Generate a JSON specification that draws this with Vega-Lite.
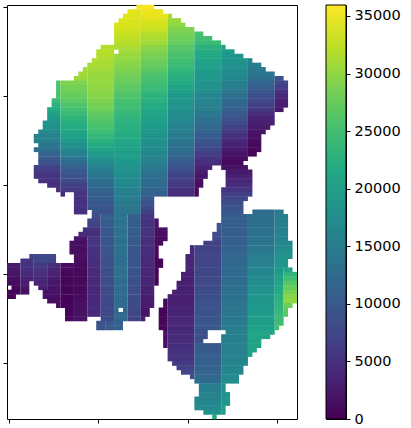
{"$schema":"https://vega.github.io/schema/vega-lite/v6.json","padding":{"left":2,"top":4,"right":0,"bottom":0},"background":"white","spacing":27,"config":{"view":{"stroke":"black","strokeWidth":1},"axis":{"grid":false,"domain":false,"tickColor":"black","tickSize":4,"title":null}},"hconcat":[{"width":290,"height":414,"data":{"values":[
{"a":29,"b":30,"r":0,"v":35500},{"a":30,"b":33,"r":0,"v":35500},
{"a":27,"b":30,"r":1,"v":34500},{"a":30,"b":35,"r":1,"v":35000},
{"a":26,"b":30,"r":2,"v":34300},{"a":30,"b":36,"r":2,"v":34800},{"a":36,"b":37,"r":2,"v":31500},
{"a":25,"b":30,"r":3,"v":34000},{"a":30,"b":36,"r":3,"v":34000},{"a":36,"b":39,"r":3,"v":30500},
{"a":24,"b":30,"r":4,"v":33800},{"a":30,"b":36,"r":4,"v":33500},{"a":36,"b":40,"r":4,"v":30000},
{"a":24,"b":30,"r":5,"v":33500},{"a":30,"b":36,"r":5,"v":33000},{"a":36,"b":42,"r":5,"v":29000},
{"a":24,"b":30,"r":6,"v":33000},{"a":30,"b":36,"r":6,"v":32000},{"a":36,"b":42,"r":6,"v":28500},{"a":42,"b":44,"r":6,"v":25500},
{"a":24,"b":30,"r":7,"v":32500},{"a":30,"b":36,"r":7,"v":31500},{"a":36,"b":42,"r":7,"v":28000},{"a":42,"b":46,"r":7,"v":25000},
{"a":24,"b":30,"r":8,"v":32000},{"a":30,"b":36,"r":8,"v":31000},{"a":36,"b":42,"r":8,"v":27500},{"a":42,"b":48,"r":8,"v":24500},
{"a":21,"b":24,"r":9,"v":32000},{"a":24,"b":30,"r":9,"v":31500},{"a":30,"b":36,"r":9,"v":29800},{"a":36,"b":42,"r":9,"v":26600},{"a":42,"b":48,"r":9,"v":23000},{"a":48,"b":49,"r":9,"v":20000},
{"a":20,"b":24,"r":10,"v":32000},{"a":25,"b":30,"r":10,"v":31000},{"a":30,"b":36,"r":10,"v":29000},{"a":36,"b":42,"r":10,"v":26000},{"a":42,"b":48,"r":10,"v":22000},{"a":48,"b":51,"r":10,"v":19500},
{"a":20,"b":24,"r":11,"v":31800},{"a":24,"b":30,"r":11,"v":30500},{"a":30,"b":36,"r":11,"v":28500},{"a":36,"b":42,"r":11,"v":25500},{"a":42,"b":48,"r":11,"v":21500},{"a":48,"b":53,"r":11,"v":19000},
{"a":19,"b":24,"r":12,"v":31500},{"a":24,"b":30,"r":12,"v":30000},{"a":30,"b":36,"r":12,"v":28000},{"a":36,"b":42,"r":12,"v":25000},{"a":42,"b":48,"r":12,"v":21000},{"a":48,"b":54,"r":12,"v":18500},{"a":54,"b":55,"r":12,"v":15500},
{"a":18,"b":24,"r":13,"v":31200},{"a":24,"b":30,"r":13,"v":29500},{"a":30,"b":36,"r":13,"v":27500},{"a":36,"b":42,"r":13,"v":24500},{"a":42,"b":48,"r":13,"v":20500},{"a":48,"b":54,"r":13,"v":18000},{"a":54,"b":57,"r":13,"v":15000},
{"a":17,"b":18,"r":14,"v":31000},{"a":18,"b":24,"r":14,"v":31000},{"a":24,"b":30,"r":14,"v":29000},{"a":30,"b":36,"r":14,"v":27000},{"a":36,"b":42,"r":14,"v":24000},{"a":42,"b":48,"r":14,"v":20000},{"a":48,"b":54,"r":14,"v":17500},{"a":54,"b":58,"r":14,"v":14500},
{"a":16,"b":18,"r":15,"v":31000},{"a":18,"b":24,"r":15,"v":30500},{"a":24,"b":30,"r":15,"v":28500},{"a":30,"b":36,"r":15,"v":26000},{"a":36,"b":42,"r":15,"v":23000},{"a":42,"b":48,"r":15,"v":19500},{"a":48,"b":54,"r":15,"v":17000},{"a":54,"b":60,"r":15,"v":14000},
{"a":15,"b":18,"r":16,"v":30500},{"a":18,"b":24,"r":16,"v":30300},{"a":24,"b":30,"r":16,"v":28000},{"a":30,"b":36,"r":16,"v":25500},{"a":36,"b":42,"r":16,"v":22500},{"a":42,"b":48,"r":16,"v":19000},{"a":48,"b":54,"r":16,"v":16500},{"a":54,"b":60,"r":16,"v":13000},{"a":60,"b":62,"r":16,"v":9000},
{"a":11,"b":12,"r":17,"v":26000},{"a":12,"b":18,"r":17,"v":29000},{"a":18,"b":24,"r":17,"v":30200},{"a":24,"b":30,"r":17,"v":27500},{"a":30,"b":36,"r":17,"v":25000},{"a":36,"b":42,"r":17,"v":22000},{"a":42,"b":48,"r":17,"v":18500},{"a":48,"b":54,"r":17,"v":15500},{"a":54,"b":60,"r":17,"v":11500},{"a":60,"b":63,"r":17,"v":7500},
{"a":11,"b":12,"r":18,"v":25800},{"a":12,"b":18,"r":18,"v":28500},{"a":18,"b":24,"r":18,"v":30000},{"a":24,"b":30,"r":18,"v":27000},{"a":30,"b":36,"r":18,"v":24500},{"a":36,"b":42,"r":18,"v":21000},{"a":42,"b":48,"r":18,"v":18200},{"a":48,"b":54,"r":18,"v":15000},{"a":54,"b":60,"r":18,"v":10500},{"a":60,"b":63,"r":18,"v":6500},
{"a":11,"b":12,"r":19,"v":25600},{"a":12,"b":18,"r":19,"v":28000},{"a":18,"b":24,"r":19,"v":29800},{"a":24,"b":30,"r":19,"v":26500},{"a":30,"b":36,"r":19,"v":24000},{"a":36,"b":42,"r":19,"v":20000},{"a":42,"b":48,"r":19,"v":17500},{"a":48,"b":54,"r":19,"v":14000},{"a":54,"b":60,"r":19,"v":9500},{"a":60,"b":63,"r":19,"v":5000},
{"a":11,"b":12,"r":20,"v":25500},{"a":12,"b":18,"r":20,"v":27500},{"a":18,"b":24,"r":20,"v":29500},{"a":24,"b":30,"r":20,"v":26000},{"a":30,"b":36,"r":20,"v":23000},{"a":36,"b":42,"r":20,"v":19500},{"a":42,"b":48,"r":20,"v":16500},{"a":48,"b":54,"r":20,"v":13000},{"a":54,"b":60,"r":20,"v":8500},{"a":60,"b":63,"r":20,"v":4000},
{"a":10,"b":12,"r":21,"v":24500},{"a":12,"b":18,"r":21,"v":27000},{"a":18,"b":24,"r":21,"v":29000},{"a":24,"b":30,"r":21,"v":25500},{"a":30,"b":36,"r":21,"v":22700},{"a":36,"b":42,"r":21,"v":19000},{"a":42,"b":48,"r":21,"v":16200},{"a":48,"b":54,"r":21,"v":12200},{"a":54,"b":60,"r":21,"v":7700},{"a":60,"b":63,"r":21,"v":3400},
{"a":10,"b":12,"r":22,"v":23000},{"a":12,"b":18,"r":22,"v":26000},{"a":18,"b":24,"r":22,"v":28500},{"a":24,"b":30,"r":22,"v":25000},{"a":30,"b":36,"r":22,"v":22000},{"a":36,"b":42,"r":22,"v":18500},{"a":42,"b":48,"r":22,"v":15700},{"a":48,"b":54,"r":22,"v":11500},{"a":54,"b":60,"r":22,"v":6800},{"a":60,"b":63,"r":22,"v":2800},
{"a":9,"b":12,"r":23,"v":22000},{"a":12,"b":18,"r":23,"v":25000},{"a":18,"b":24,"r":23,"v":28000},{"a":24,"b":30,"r":23,"v":24700},{"a":30,"b":36,"r":23,"v":21500},{"a":36,"b":42,"r":23,"v":18000},{"a":42,"b":48,"r":23,"v":15000},{"a":48,"b":54,"r":23,"v":11000},{"a":54,"b":60,"r":23,"v":5800},{"a":60,"b":62,"r":23,"v":2200},
{"a":9,"b":12,"r":24,"v":20500},{"a":12,"b":18,"r":24,"v":24500},{"a":18,"b":24,"r":24,"v":27200},{"a":24,"b":30,"r":24,"v":24000},{"a":30,"b":36,"r":24,"v":21000},{"a":36,"b":42,"r":24,"v":17500},{"a":42,"b":48,"r":24,"v":14200},{"a":48,"b":54,"r":24,"v":10000},{"a":54,"b":60,"r":24,"v":4500},
{"a":9,"b":12,"r":25,"v":19500},{"a":12,"b":18,"r":25,"v":23500},{"a":18,"b":24,"r":25,"v":26500},{"a":24,"b":30,"r":25,"v":23500},{"a":30,"b":36,"r":25,"v":20500},{"a":36,"b":42,"r":25,"v":17000},{"a":42,"b":48,"r":25,"v":13500},{"a":48,"b":54,"r":25,"v":9000},{"a":54,"b":60,"r":25,"v":3500},
{"a":8,"b":12,"r":26,"v":18500},{"a":12,"b":18,"r":26,"v":22700},{"a":18,"b":24,"r":26,"v":26000},{"a":24,"b":30,"r":26,"v":23000},{"a":30,"b":36,"r":26,"v":20000},{"a":36,"b":42,"r":26,"v":16400},{"a":42,"b":48,"r":26,"v":12700},{"a":48,"b":54,"r":26,"v":8000},{"a":54,"b":60,"r":26,"v":3000},
{"a":8,"b":12,"r":27,"v":18000},{"a":12,"b":18,"r":27,"v":22000},{"a":18,"b":24,"r":27,"v":25500},{"a":24,"b":30,"r":27,"v":22700},{"a":30,"b":36,"r":27,"v":19500},{"a":36,"b":42,"r":27,"v":15800},{"a":42,"b":48,"r":27,"v":12000},{"a":48,"b":54,"r":27,"v":7000},{"a":54,"b":59,"r":27,"v":2500},
{"a":7,"b":12,"r":28,"v":17000},{"a":12,"b":18,"r":28,"v":21200},{"a":18,"b":24,"r":28,"v":24700},{"a":24,"b":30,"r":28,"v":22300},{"a":30,"b":36,"r":28,"v":19000},{"a":36,"b":42,"r":28,"v":15300},{"a":42,"b":48,"r":28,"v":11200},{"a":48,"b":54,"r":28,"v":6000},{"a":54,"b":58,"r":28,"v":1800},
{"a":6,"b":12,"r":29,"v":16000},{"a":12,"b":18,"r":29,"v":20300},{"a":18,"b":24,"r":29,"v":24000},{"a":24,"b":30,"r":29,"v":22000},{"a":30,"b":36,"r":29,"v":18500},{"a":36,"b":42,"r":29,"v":14600},{"a":42,"b":48,"r":29,"v":10400},{"a":48,"b":54,"r":29,"v":5000},{"a":54,"b":57,"r":29,"v":1400},
{"a":6,"b":12,"r":30,"v":15500},{"a":12,"b":18,"r":30,"v":19500},{"a":18,"b":24,"r":30,"v":23000},{"a":24,"b":30,"r":30,"v":21500},{"a":30,"b":36,"r":30,"v":18000},{"a":36,"b":42,"r":30,"v":14000},{"a":42,"b":48,"r":30,"v":9500},{"a":48,"b":54,"r":30,"v":4000},{"a":54,"b":57,"r":30,"v":1000},
{"a":7,"b":12,"r":31,"v":14000},{"a":12,"b":18,"r":31,"v":18000},{"a":18,"b":24,"r":31,"v":22000},{"a":24,"b":30,"r":31,"v":21000},{"a":30,"b":36,"r":31,"v":17500},{"a":36,"b":42,"r":31,"v":13500},{"a":42,"b":48,"r":31,"v":8500},{"a":48,"b":54,"r":31,"v":3200},{"a":54,"b":57,"r":31,"v":800},
{"a":6,"b":12,"r":32,"v":13000},{"a":12,"b":18,"r":32,"v":16800},{"a":18,"b":24,"r":32,"v":20800},{"a":24,"b":30,"r":32,"v":20700},{"a":30,"b":36,"r":32,"v":17000},{"a":36,"b":42,"r":32,"v":13000},{"a":42,"b":48,"r":32,"v":7500},{"a":48,"b":54,"r":32,"v":2500},{"a":54,"b":57,"r":32,"v":600},
{"a":7,"b":12,"r":33,"v":11500},{"a":12,"b":18,"r":33,"v":15500},{"a":18,"b":24,"r":33,"v":19500},{"a":24,"b":30,"r":33,"v":20200},{"a":30,"b":36,"r":33,"v":16500},{"a":36,"b":42,"r":33,"v":12000},{"a":42,"b":48,"r":33,"v":6500},{"a":48,"b":54,"r":33,"v":1700},{"a":54,"b":56,"r":33,"v":500},
{"a":7,"b":12,"r":34,"v":10000},{"a":12,"b":18,"r":34,"v":14000},{"a":18,"b":24,"r":34,"v":18200},{"a":24,"b":30,"r":34,"v":19600},{"a":30,"b":36,"r":34,"v":16000},{"a":36,"b":42,"r":34,"v":11000},{"a":42,"b":48,"r":34,"v":5500},{"a":48,"b":54,"r":34,"v":1000},
{"a":7,"b":12,"r":35,"v":9000},{"a":12,"b":18,"r":35,"v":12500},{"a":18,"b":24,"r":35,"v":17000},{"a":24,"b":30,"r":35,"v":19000},{"a":30,"b":36,"r":35,"v":15500},{"a":36,"b":42,"r":35,"v":10000},{"a":42,"b":48,"r":35,"v":4500},{"a":48,"b":53,"r":35,"v":700},
{"a":6,"b":12,"r":36,"v":7000},{"a":12,"b":18,"r":36,"v":11000},{"a":18,"b":24,"r":36,"v":15500},{"a":24,"b":30,"r":36,"v":18500},{"a":30,"b":36,"r":36,"v":14500},{"a":36,"b":42,"r":36,"v":9000},{"a":42,"b":46,"r":36,"v":3500},{"a":48,"b":54,"r":36,"v":1500},
{"a":6,"b":12,"r":37,"v":6000},{"a":12,"b":18,"r":37,"v":10000},{"a":18,"b":24,"r":37,"v":14700},{"a":24,"b":30,"r":37,"v":18000},{"a":30,"b":36,"r":37,"v":13700},{"a":36,"b":42,"r":37,"v":8000},{"a":42,"b":45,"r":37,"v":2700},{"a":49,"b":55,"r":37,"v":2300},
{"a":6,"b":12,"r":38,"v":5500},{"a":12,"b":18,"r":38,"v":9000},{"a":18,"b":24,"r":38,"v":14000},{"a":24,"b":30,"r":38,"v":17500},{"a":30,"b":36,"r":38,"v":13000},{"a":36,"b":42,"r":38,"v":7000},{"a":42,"b":45,"r":38,"v":2000},{"a":49,"b":55,"r":38,"v":3000},
{"a":7,"b":12,"r":39,"v":5000},{"a":12,"b":18,"r":39,"v":8000},{"a":18,"b":24,"r":39,"v":13200},{"a":24,"b":30,"r":39,"v":17000},{"a":30,"b":36,"r":39,"v":12500},{"a":36,"b":42,"r":39,"v":6500},{"a":42,"b":44,"r":39,"v":1500},{"a":49,"b":55,"r":39,"v":3800},
{"a":9,"b":12,"r":40,"v":4700},{"a":12,"b":18,"r":40,"v":7000},{"a":18,"b":24,"r":40,"v":12500},{"a":24,"b":30,"r":40,"v":16500},{"a":30,"b":36,"r":40,"v":12000},{"a":36,"b":42,"r":40,"v":5700},{"a":42,"b":44,"r":40,"v":1200},{"a":49,"b":55,"r":40,"v":4500},
{"a":11,"b":12,"r":41,"v":4500},{"a":12,"b":18,"r":41,"v":6000},{"a":18,"b":24,"r":41,"v":11700},{"a":24,"b":30,"r":41,"v":16000},{"a":30,"b":36,"r":41,"v":11500},{"a":36,"b":42,"r":41,"v":5000},{"a":42,"b":43,"r":41,"v":1000},{"a":48,"b":55,"r":41,"v":5500},
{"a":12,"b":13,"r":42,"v":4300},{"a":15,"b":18,"r":42,"v":5200},{"a":18,"b":24,"r":42,"v":11000},{"a":24,"b":30,"r":42,"v":15500},{"a":30,"b":36,"r":42,"v":11000},{"a":36,"b":42,"r":42,"v":4500},{"a":42,"b":43,"r":42,"v":800},{"a":48,"b":55,"r":42,"v":6500},
{"a":15,"b":18,"r":43,"v":5000},{"a":18,"b":24,"r":43,"v":10500},{"a":24,"b":30,"r":43,"v":15000},{"a":30,"b":33,"r":43,"v":10000},{"a":48,"b":54,"r":43,"v":7500},
{"a":15,"b":18,"r":44,"v":5000},{"a":18,"b":24,"r":44,"v":10000},{"a":24,"b":30,"r":44,"v":14700},{"a":30,"b":33,"r":44,"v":9000},{"a":48,"b":53,"r":44,"v":8200},
{"a":15,"b":18,"r":45,"v":5000},{"a":18,"b":24,"r":45,"v":9500},{"a":24,"b":30,"r":45,"v":14300},{"a":30,"b":33,"r":45,"v":8000},{"a":48,"b":53,"r":45,"v":9000},
{"a":15,"b":18,"r":46,"v":5000},{"a":19,"b":24,"r":46,"v":9000},{"a":24,"b":30,"r":46,"v":14000},{"a":30,"b":33,"r":46,"v":7000},{"a":48,"b":53,"r":46,"v":9500},{"a":55,"b":60,"r":46,"v":12500},{"a":60,"b":62,"r":46,"v":14500},
{"a":19,"b":21,"r":47,"v":8500},{"a":21,"b":24,"r":47,"v":10500},{"a":24,"b":27,"r":47,"v":13800},{"a":27,"b":30,"r":47,"v":11000},{"a":30,"b":33,"r":47,"v":5500},{"a":48,"b":54,"r":47,"v":10500},{"a":54,"b":60,"r":47,"v":13000},{"a":60,"b":63,"r":47,"v":15000},
{"a":18,"b":21,"r":48,"v":7500},{"a":21,"b":24,"r":48,"v":10500},{"a":24,"b":27,"r":48,"v":13700},{"a":27,"b":30,"r":48,"v":10500},{"a":30,"b":33,"r":48,"v":5200},{"a":33,"b":34,"r":48,"v":1500},{"a":48,"b":54,"r":48,"v":10500},{"a":54,"b":60,"r":48,"v":13000},{"a":60,"b":63,"r":48,"v":15000},
{"a":18,"b":21,"r":49,"v":7000},{"a":21,"b":24,"r":49,"v":10300},{"a":24,"b":27,"r":49,"v":13600},{"a":27,"b":30,"r":49,"v":10500},{"a":30,"b":33,"r":49,"v":5000},{"a":33,"b":34,"r":49,"v":1500},{"a":47,"b":48,"r":49,"v":9500},{"a":48,"b":54,"r":49,"v":10500},{"a":54,"b":60,"r":49,"v":13200},{"a":60,"b":63,"r":49,"v":15200},
{"a":17,"b":21,"r":50,"v":5000},{"a":21,"b":24,"r":50,"v":10000},{"a":24,"b":27,"r":50,"v":13500},{"a":27,"b":30,"r":50,"v":10500},{"a":30,"b":33,"r":50,"v":5500},{"a":33,"b":36,"r":50,"v":1500},{"a":47,"b":48,"r":50,"v":9300},{"a":48,"b":54,"r":50,"v":10500},{"a":54,"b":60,"r":50,"v":13300},{"a":60,"b":63,"r":50,"v":15400},
{"a":16,"b":21,"r":51,"v":4500},{"a":21,"b":24,"r":51,"v":9800},{"a":24,"b":27,"r":51,"v":13500},{"a":27,"b":30,"r":51,"v":10200},{"a":30,"b":33,"r":51,"v":5000},{"a":33,"b":36,"r":51,"v":1200},{"a":46,"b":48,"r":51,"v":8300},{"a":48,"b":54,"r":51,"v":10500},{"a":54,"b":60,"r":51,"v":13500},{"a":60,"b":63,"r":51,"v":15700},
{"a":15,"b":18,"r":52,"v":2000},{"a":18,"b":21,"r":52,"v":5500},{"a":21,"b":24,"r":52,"v":9700},{"a":24,"b":27,"r":52,"v":13400},{"a":27,"b":30,"r":52,"v":10000},{"a":30,"b":33,"r":52,"v":4800},{"a":33,"b":36,"r":52,"v":1000},{"a":46,"b":48,"r":52,"v":8000},{"a":48,"b":54,"r":52,"v":10700},{"a":54,"b":60,"r":52,"v":13800},{"a":60,"b":63,"r":52,"v":16000},
{"a":14,"b":18,"r":53,"v":1300},{"a":18,"b":21,"r":53,"v":5300},{"a":21,"b":24,"r":53,"v":9500},{"a":24,"b":27,"r":53,"v":13300},{"a":27,"b":30,"r":53,"v":9800},{"a":30,"b":33,"r":53,"v":4600},{"a":33,"b":35,"r":53,"v":800},{"a":44,"b":48,"r":53,"v":7000},{"a":48,"b":54,"r":53,"v":10800},{"a":54,"b":60,"r":53,"v":14000},{"a":60,"b":64,"r":53,"v":16500},
{"a":14,"b":18,"r":54,"v":1200},{"a":18,"b":21,"r":54,"v":5200},{"a":21,"b":24,"r":54,"v":9300},{"a":24,"b":27,"r":54,"v":13200},{"a":27,"b":30,"r":54,"v":9700},{"a":30,"b":33,"r":54,"v":4500},{"a":33,"b":34,"r":54,"v":700},{"a":41,"b":42,"r":54,"v":4000},{"a":42,"b":48,"r":54,"v":7000},{"a":48,"b":54,"r":54,"v":11000},{"a":54,"b":60,"r":54,"v":14300},{"a":60,"b":64,"r":54,"v":17000},
{"a":14,"b":18,"r":55,"v":1100},{"a":18,"b":21,"r":55,"v":5000},{"a":21,"b":24,"r":55,"v":9200},{"a":24,"b":27,"r":55,"v":13200},{"a":27,"b":30,"r":55,"v":9600},{"a":30,"b":33,"r":55,"v":4400},{"a":33,"b":34,"r":55,"v":600},{"a":41,"b":42,"r":55,"v":4000},{"a":42,"b":48,"r":55,"v":7200},{"a":48,"b":54,"r":55,"v":11200},{"a":54,"b":60,"r":55,"v":14700},{"a":60,"b":64,"r":55,"v":17800},
{"a":5,"b":11,"r":56,"v":7500},{"a":15,"b":18,"r":56,"v":1100},{"a":18,"b":21,"r":56,"v":4800},{"a":21,"b":24,"r":56,"v":9000},{"a":24,"b":27,"r":56,"v":13100},{"a":27,"b":30,"r":56,"v":9500},{"a":30,"b":33,"r":56,"v":4300},{"a":33,"b":34,"r":56,"v":600},{"a":40,"b":42,"r":56,"v":3500},{"a":42,"b":48,"r":56,"v":7200},{"a":48,"b":54,"r":56,"v":11500},{"a":54,"b":60,"r":56,"v":15000},{"a":60,"b":64,"r":56,"v":18000},
{"a":3,"b":6,"r":57,"v":5500},{"a":6,"b":11,"r":57,"v":7500},{"a":15,"b":18,"r":57,"v":1000},{"a":18,"b":21,"r":57,"v":4700},{"a":21,"b":24,"r":57,"v":8900},{"a":24,"b":27,"r":57,"v":13100},{"a":27,"b":30,"r":57,"v":9400},{"a":30,"b":33,"r":57,"v":4200},{"a":33,"b":35,"r":57,"v":500},{"a":40,"b":42,"r":57,"v":3500},{"a":42,"b":48,"r":57,"v":7300},{"a":48,"b":54,"r":57,"v":11800},{"a":54,"b":60,"r":57,"v":15300},{"a":60,"b":63,"r":57,"v":18500},
{"a":0,"b":3,"r":58,"v":2500},{"a":3,"b":6,"r":58,"v":5000},{"a":6,"b":9,"r":58,"v":6000},{"a":9,"b":12,"r":58,"v":4500},{"a":12,"b":15,"r":58,"v":1000},{"a":15,"b":18,"r":58,"v":800},{"a":18,"b":21,"r":58,"v":4500},{"a":21,"b":24,"r":58,"v":8800},{"a":24,"b":27,"r":58,"v":13000},{"a":27,"b":30,"r":58,"v":9300},{"a":30,"b":33,"r":58,"v":4000},{"a":33,"b":35,"r":58,"v":500},{"a":40,"b":42,"r":58,"v":3500},{"a":42,"b":48,"r":58,"v":7400},{"a":48,"b":54,"r":58,"v":12000},{"a":54,"b":60,"r":58,"v":15800},{"a":60,"b":63,"r":58,"v":19000},
{"a":0,"b":3,"r":59,"v":2200},{"a":3,"b":6,"r":59,"v":4500},{"a":6,"b":9,"r":59,"v":5500},{"a":9,"b":12,"r":59,"v":3800},{"a":12,"b":15,"r":59,"v":700},{"a":15,"b":18,"r":59,"v":700},{"a":18,"b":21,"r":59,"v":4400},{"a":21,"b":24,"r":59,"v":8600},{"a":24,"b":27,"r":59,"v":13000},{"a":27,"b":30,"r":59,"v":9200},{"a":30,"b":33,"r":59,"v":3900},{"a":33,"b":34,"r":59,"v":450},{"a":40,"b":42,"r":59,"v":3400},{"a":42,"b":48,"r":59,"v":7500},{"a":48,"b":54,"r":59,"v":12200},{"a":54,"b":60,"r":59,"v":16200},{"a":60,"b":62,"r":59,"v":19500},{"a":62,"b":64,"r":59,"v":21000},
{"a":0,"b":3,"r":60,"v":1800},{"a":3,"b":6,"r":60,"v":4000},{"a":6,"b":9,"r":60,"v":4800},{"a":9,"b":12,"r":60,"v":3200},{"a":12,"b":15,"r":60,"v":500},{"a":15,"b":18,"r":60,"v":600},{"a":18,"b":21,"r":60,"v":4300},{"a":21,"b":24,"r":60,"v":8500},{"a":24,"b":27,"r":60,"v":13000},{"a":27,"b":30,"r":60,"v":9000},{"a":30,"b":33,"r":60,"v":3800},{"a":33,"b":34,"r":60,"v":400},{"a":39,"b":42,"r":60,"v":3000},{"a":42,"b":48,"r":60,"v":7500},{"a":48,"b":54,"r":60,"v":12300},{"a":54,"b":60,"r":60,"v":16500},{"a":60,"b":62,"r":60,"v":20000},{"a":62,"b":65,"r":60,"v":23500},
{"a":0,"b":3,"r":61,"v":1300},{"a":3,"b":6,"r":61,"v":3300},{"a":6,"b":9,"r":61,"v":4200},{"a":9,"b":12,"r":61,"v":2500},{"a":12,"b":15,"r":61,"v":400},{"a":15,"b":18,"r":61,"v":600},{"a":18,"b":21,"r":61,"v":4200},{"a":21,"b":24,"r":61,"v":8400},{"a":24,"b":27,"r":61,"v":12900},{"a":27,"b":30,"r":61,"v":8900},{"a":30,"b":33,"r":61,"v":3600},{"a":33,"b":34,"r":61,"v":400},{"a":39,"b":42,"r":61,"v":3000},{"a":42,"b":48,"r":61,"v":7700},{"a":48,"b":54,"r":61,"v":12500},{"a":54,"b":60,"r":61,"v":17000},{"a":60,"b":62,"r":61,"v":20500},{"a":62,"b":65,"r":61,"v":25000},
{"a":0,"b":3,"r":62,"v":900},{"a":3,"b":5,"r":62,"v":2600},{"a":6,"b":9,"r":62,"v":3500},{"a":9,"b":12,"r":62,"v":2000},{"a":12,"b":15,"r":62,"v":350},{"a":15,"b":18,"r":62,"v":700},{"a":18,"b":21,"r":62,"v":4100},{"a":21,"b":24,"r":62,"v":8300},{"a":24,"b":27,"r":62,"v":12800},{"a":27,"b":30,"r":62,"v":8800},{"a":30,"b":33,"r":62,"v":3500},{"a":33,"b":34,"r":62,"v":400},{"a":38,"b":42,"r":62,"v":3000},{"a":42,"b":48,"r":62,"v":7800},{"a":48,"b":54,"r":62,"v":12700},{"a":54,"b":60,"r":62,"v":17300},{"a":60,"b":62,"r":62,"v":21000},{"a":62,"b":65,"r":62,"v":26500},
{"a":1,"b":3,"r":63,"v":600},{"a":3,"b":5,"r":63,"v":2000},{"a":7,"b":9,"r":63,"v":2800},{"a":9,"b":12,"r":63,"v":1700},{"a":12,"b":15,"r":63,"v":300},{"a":15,"b":18,"r":63,"v":800},{"a":18,"b":21,"r":63,"v":4000},{"a":21,"b":24,"r":63,"v":8200},{"a":24,"b":27,"r":63,"v":12700},{"a":27,"b":30,"r":63,"v":8600},{"a":30,"b":33,"r":63,"v":3200},{"a":38,"b":42,"r":63,"v":3100},{"a":42,"b":48,"r":63,"v":8000},{"a":48,"b":54,"r":63,"v":13000},{"a":54,"b":60,"r":63,"v":17800},{"a":60,"b":62,"r":63,"v":21500},{"a":62,"b":65,"r":63,"v":27500},
{"a":0,"b":3,"r":64,"v":400},{"a":3,"b":5,"r":64,"v":1500},{"a":8,"b":12,"r":64,"v":1700},{"a":12,"b":15,"r":64,"v":300},{"a":15,"b":18,"r":64,"v":900},{"a":18,"b":21,"r":64,"v":4000},{"a":21,"b":24,"r":64,"v":8000},{"a":24,"b":27,"r":64,"v":12600},{"a":27,"b":30,"r":64,"v":8400},{"a":30,"b":33,"r":64,"v":3000},{"a":37,"b":42,"r":64,"v":3000},{"a":42,"b":48,"r":64,"v":8200},{"a":48,"b":54,"r":64,"v":13200},{"a":54,"b":60,"r":64,"v":18200},{"a":60,"b":62,"r":64,"v":22000},{"a":62,"b":65,"r":64,"v":28500},
{"a":0,"b":2,"r":65,"v":300},{"a":8,"b":12,"r":65,"v":1400},{"a":12,"b":15,"r":65,"v":300},{"a":15,"b":18,"r":65,"v":1000},{"a":18,"b":21,"r":65,"v":4000},{"a":21,"b":24,"r":65,"v":7900},{"a":24,"b":27,"r":65,"v":12500},{"a":27,"b":30,"r":65,"v":8200},{"a":30,"b":33,"r":65,"v":2800},{"a":36,"b":42,"r":65,"v":3000},{"a":42,"b":48,"r":65,"v":8500},{"a":48,"b":54,"r":65,"v":13500},{"a":54,"b":60,"r":65,"v":18700},{"a":60,"b":62,"r":65,"v":22700},{"a":62,"b":65,"r":65,"v":29500},
{"a":9,"b":12,"r":66,"v":1100},{"a":12,"b":15,"r":66,"v":300},{"a":15,"b":18,"r":66,"v":1100},{"a":18,"b":21,"r":66,"v":4000},{"a":21,"b":24,"r":66,"v":7800},{"a":24,"b":27,"r":66,"v":12400},{"a":27,"b":30,"r":66,"v":8000},{"a":30,"b":33,"r":66,"v":2600},{"a":35,"b":36,"r":66,"v":600},{"a":36,"b":42,"r":66,"v":3000},{"a":42,"b":48,"r":66,"v":8800},{"a":48,"b":54,"r":66,"v":13700},{"a":54,"b":60,"r":66,"v":19000},{"a":60,"b":62,"r":66,"v":23200},{"a":62,"b":65,"r":66,"v":30000},
{"a":11,"b":12,"r":67,"v":700},{"a":12,"b":15,"r":67,"v":400},{"a":15,"b":18,"r":67,"v":1200},{"a":18,"b":21,"r":67,"v":4000},{"a":21,"b":24,"r":67,"v":7800},{"a":24,"b":27,"r":67,"v":12300},{"a":27,"b":30,"r":67,"v":7900},{"a":30,"b":33,"r":67,"v":2400},{"a":35,"b":36,"r":67,"v":600},{"a":36,"b":42,"r":67,"v":3200},{"a":42,"b":48,"r":67,"v":9000},{"a":48,"b":54,"r":67,"v":14000},{"a":54,"b":60,"r":67,"v":19300},{"a":60,"b":62,"r":67,"v":23500},{"a":62,"b":64,"r":67,"v":28000},
{"a":13,"b":15,"r":68,"v":500},{"a":15,"b":18,"r":68,"v":1400},{"a":18,"b":21,"r":68,"v":4200},{"a":21,"b":24,"r":68,"v":7800},{"a":24,"b":25,"r":68,"v":12000},{"a":26,"b":27,"r":68,"v":11500},{"a":27,"b":30,"r":68,"v":7700},{"a":30,"b":32,"r":68,"v":2000},{"a":34,"b":36,"r":68,"v":500},{"a":36,"b":42,"r":68,"v":3300},{"a":42,"b":48,"r":68,"v":9000},{"a":48,"b":54,"r":68,"v":14000},{"a":54,"b":60,"r":68,"v":19500},{"a":60,"b":62,"r":68,"v":24000},{"a":62,"b":63,"r":68,"v":27000},
{"a":13,"b":15,"r":69,"v":600},{"a":15,"b":18,"r":69,"v":1500},{"a":18,"b":21,"r":69,"v":4300},{"a":21,"b":24,"r":69,"v":7900},{"a":24,"b":27,"r":69,"v":12000},{"a":27,"b":30,"r":69,"v":7500},{"a":30,"b":32,"r":69,"v":1800},{"a":34,"b":36,"r":69,"v":500},{"a":36,"b":42,"r":69,"v":3500},{"a":42,"b":48,"r":69,"v":9200},{"a":48,"b":54,"r":69,"v":14200},{"a":54,"b":60,"r":69,"v":19700},{"a":60,"b":62,"r":69,"v":24200},{"a":62,"b":63,"r":69,"v":26500},
{"a":13,"b":15,"r":70,"v":700},{"a":15,"b":18,"r":70,"v":1700},{"a":21,"b":24,"r":70,"v":8000},{"a":24,"b":27,"r":70,"v":11800},{"a":27,"b":30,"r":70,"v":7000},{"a":30,"b":31,"r":70,"v":2500},{"a":34,"b":36,"r":70,"v":500},{"a":36,"b":42,"r":70,"v":3600},{"a":42,"b":48,"r":70,"v":9400},{"a":48,"b":54,"r":70,"v":14400},{"a":54,"b":60,"r":70,"v":20000},{"a":60,"b":62,"r":70,"v":24500},
{"a":20,"b":22,"r":71,"v":9000},{"a":22,"b":24,"r":71,"v":10000},{"a":24,"b":26,"r":71,"v":11000},{"a":34,"b":36,"r":71,"v":500},{"a":36,"b":42,"r":71,"v":3800},{"a":42,"b":48,"r":71,"v":9600},{"a":48,"b":54,"r":71,"v":14700},{"a":54,"b":60,"r":71,"v":20200},{"a":60,"b":62,"r":71,"v":24800},
{"a":20,"b":22,"r":72,"v":9000},{"a":22,"b":24,"r":72,"v":10000},{"a":24,"b":26,"r":72,"v":11000},{"a":34,"b":36,"r":72,"v":500},{"a":36,"b":42,"r":72,"v":4000},{"a":42,"b":48,"r":72,"v":9800},{"a":48,"b":54,"r":72,"v":15000},{"a":54,"b":60,"r":72,"v":20500},{"a":60,"b":61,"r":72,"v":25000},
{"a":35,"b":36,"r":73,"v":1000},{"a":36,"b":42,"r":73,"v":4200},{"a":42,"b":45,"r":73,"v":8500},{"a":49,"b":54,"r":73,"v":15500},{"a":54,"b":60,"r":73,"v":21000},
{"a":35,"b":36,"r":74,"v":1000},{"a":36,"b":42,"r":74,"v":4300},{"a":42,"b":45,"r":74,"v":8600},{"a":48,"b":54,"r":74,"v":15200},{"a":54,"b":59,"r":74,"v":21200},
{"a":35,"b":36,"r":75,"v":1200},{"a":36,"b":42,"r":75,"v":4500},{"a":42,"b":44,"r":75,"v":8500},{"a":48,"b":54,"r":75,"v":15500},{"a":54,"b":57,"r":75,"v":21000},
{"a":35,"b":36,"r":76,"v":1400},{"a":36,"b":42,"r":76,"v":4700},{"a":42,"b":48,"r":76,"v":10000},{"a":48,"b":54,"r":76,"v":15500},{"a":54,"b":57,"r":76,"v":21000},
{"a":36,"b":42,"r":77,"v":5000},{"a":42,"b":48,"r":77,"v":10200},{"a":48,"b":54,"r":77,"v":15700},{"a":54,"b":56,"r":77,"v":20800},
{"a":36,"b":42,"r":78,"v":5300},{"a":42,"b":48,"r":78,"v":10400},{"a":48,"b":54,"r":78,"v":15800},{"a":54,"b":55,"r":78,"v":20800},
{"a":36,"b":42,"r":79,"v":5500},{"a":42,"b":48,"r":79,"v":10600},{"a":48,"b":54,"r":79,"v":16000},
{"a":37,"b":42,"r":80,"v":6000},{"a":42,"b":48,"r":80,"v":10800},{"a":48,"b":54,"r":80,"v":16200},
{"a":38,"b":42,"r":81,"v":6800},{"a":42,"b":48,"r":81,"v":11200},{"a":48,"b":53,"r":81,"v":16500},
{"a":39,"b":42,"r":82,"v":7500},{"a":42,"b":48,"r":82,"v":11500},{"a":48,"b":53,"r":82,"v":16800},
{"a":41,"b":42,"r":83,"v":9000},{"a":42,"b":48,"r":83,"v":12000},{"a":48,"b":52,"r":83,"v":17000},
{"a":42,"b":48,"r":84,"v":12500},{"a":48,"b":52,"r":84,"v":17500},
{"a":43,"b":48,"r":85,"v":15000},{"a":48,"b":49,"r":85,"v":18000},
{"a":43,"b":48,"r":86,"v":15500},{"a":48,"b":49,"r":86,"v":18000},
{"a":43,"b":48,"r":87,"v":15700},{"a":48,"b":50,"r":87,"v":18500},
{"a":42,"b":48,"r":88,"v":16000},{"a":48,"b":50,"r":88,"v":19000},
{"a":42,"b":48,"r":89,"v":16500},{"a":48,"b":50,"r":89,"v":19500},
{"a":42,"b":48,"r":90,"v":17000},{"a":48,"b":49,"r":90,"v":20000},
{"a":44,"b":48,"r":91,"v":18500},{"a":48,"b":49,"r":91,"v":20500},
{"a":46,"b":47,"r":92,"v":21000}
]},"mark":{"type":"rect","height":4.9,"strokeWidth":0},"encoding":{"x":{"field":"a","type":"quantitative","scale":{"domain":[0,65],"nice":false,"zero":false},"axis":{"values":[0.5,20.5,40.5,60.5],"labels":false}},"x2":{"field":"b"},"y":{"field":"r","type":"quantitative","scale":{"domain":[92.5,-0.5],"nice":false,"zero":false},"axis":{"values":[0,20,40,60,80],"labels":false}},"color":{"field":"v","type":"quantitative","scale":{"scheme":"viridis","domain":[0,35950]},"legend":null}}},{"width":20,"height":414,"data":{"values":[{"lo":0,"hi":35950}]},"mark":{"type":"rect","stroke":"black","strokeWidth":1,"fill":{"gradient":"linear","x1":0,"y1":1,"x2":0,"y2":0,"stops":[{"offset":0,"color":"#440154"},{"offset":0.1,"color":"#482475"},{"offset":0.2,"color":"#414487"},{"offset":0.3,"color":"#355f8d"},{"offset":0.4,"color":"#2a788e"},{"offset":0.5,"color":"#21918c"},{"offset":0.6,"color":"#22a884"},{"offset":0.7,"color":"#44bf70"},{"offset":0.8,"color":"#7ad151"},{"offset":0.9,"color":"#bddf26"},{"offset":1,"color":"#fde725"}]}},"encoding":{"y":{"field":"lo","type":"quantitative","scale":{"domain":[0,35950],"nice":false,"zero":false},"axis":{"orient":"right","values":[0,5000,10000,15000,20000,25000,30000,35000],"format":"d","labelFont":"DejaVu Sans","labelFontSize":14.5,"labelColor":"black","labelPadding":4}},"y2":{"field":"hi"}}}]}
